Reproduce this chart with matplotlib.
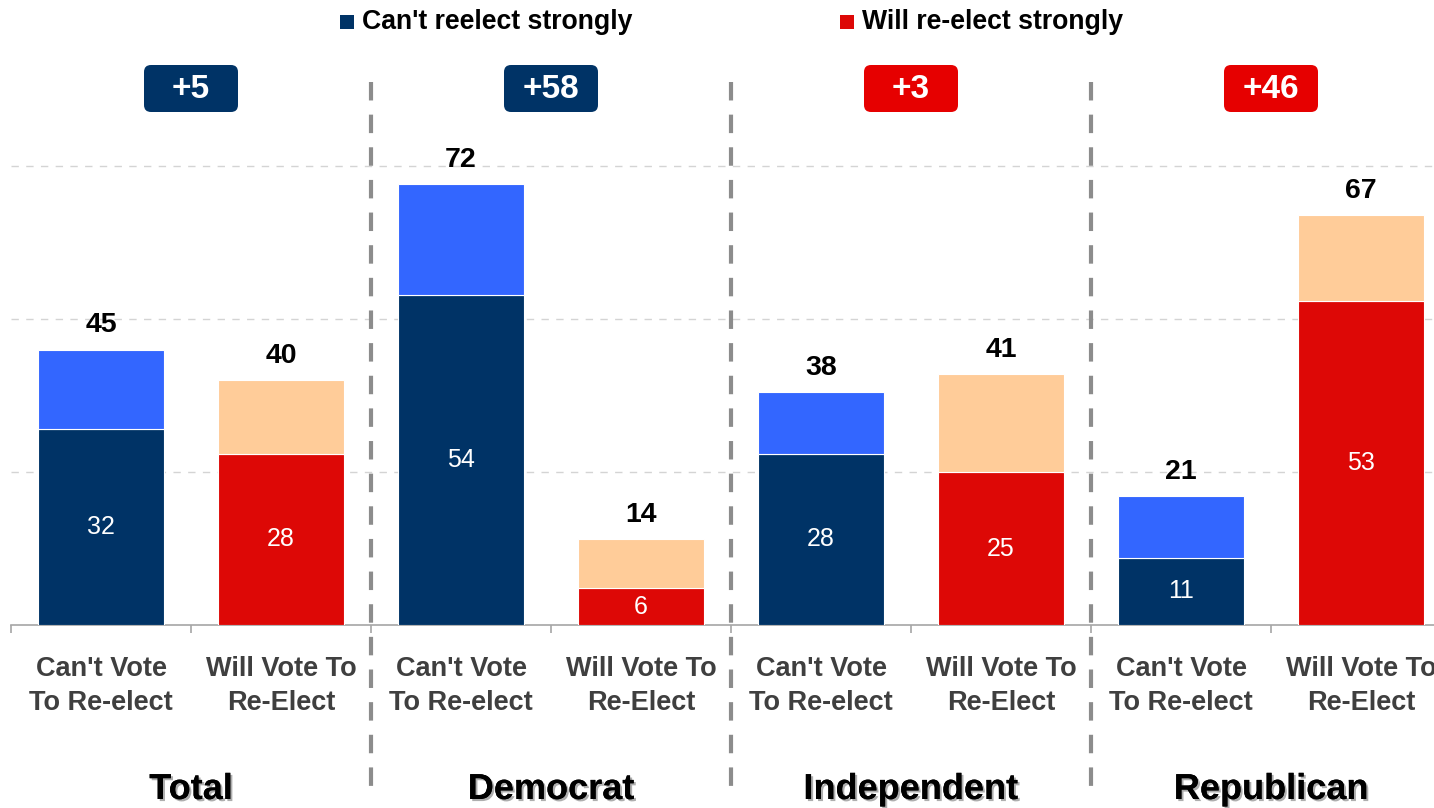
import matplotlib
matplotlib.use("Agg")
import matplotlib.pyplot as plt
from matplotlib.patches import FancyBboxPatch
from matplotlib.lines import Line2D
import matplotlib.patheffects as pe

plt.rcParams['font.family'] = ['Liberation Sans', 'DejaVu Sans']
plt.rcParams['lines.scale_dashes'] = False

# ---- data ----
groups = ["Total", "Democrat", "Independent", "Republican"]
bar_labels = ["Can't Vote\nTo Re-elect", "Will Vote To\nRe-Elect"] * 4
totals = [45, 40, 72, 14, 38, 41, 21, 67]
strong = [32, 28, 54, 6, 28, 25, 11, 53]
margins = ["+5", "+58", "+3", "+46"]
margin_side = ["cant", "cant", "will", "will"]
legend_labels = ["Can't reelect strongly", "Will re-elect strongly"]

NAVY = "#003366"
BLUE = "#3366FF"
RED = "#DD0806"
PEACH = "#FFCC99"
BADGE_RED = "#E60000"

W, H = 1434, 808
fig = plt.figure(figsize=(W / 100, H / 100), dpi=100)

px_per_unit = 6.12
ymax = 80
ax_bottom_px = 625
ax = fig.add_axes([11 / W, (H - ax_bottom_px) / H, 1440 / W, ymax * px_per_unit / H])
ax.set_xlim(-0.5, 7.5)
ax.set_ylim(0, ymax)

x = list(range(len(totals)))
strong_colors = [NAVY if i % 2 == 0 else RED for i in x]
rest_colors = [BLUE if i % 2 == 0 else PEACH for i in x]
rest = [t - s for t, s in zip(totals, strong)]

ax.bar(x, strong, width=0.705, color=strong_colors, edgecolor="white", linewidth=0.8, zorder=3)
ax.bar(x, rest, bottom=strong, width=0.705, color=rest_colors, edgecolor="white", linewidth=0.8, zorder=3)

for xi, t, s in zip(x, totals, strong):
    ax.text(xi, s / 2, f"{s}", ha="center", va="center", color="white", fontsize=18, zorder=4)
    ax.annotate(f"{t}", (xi, t), xytext=(0, 12.5), textcoords="offset points",
                ha="center", va="baseline", fontsize=20.5, fontweight="bold", color="black", zorder=4)

# gridlines
for gv in (25, 50, 75):
    ax.axhline(gv, color="#D4D4D4", linewidth=1, linestyle=(0, (5.3, 5.3)), zorder=1)

# axes styling
for s in ("top", "right", "left"):
    ax.spines[s].set_visible(False)
ax.spines["bottom"].set_color("#A6A6A6")
ax.spines["bottom"].set_linewidth(1.2)
ax.set_yticks([])
ax.set_xticks([i - 0.5 for i in range(9)])
ax.set_xticklabels([])
ax.tick_params(axis="x", which="major", length=6, color="#A6A6A6", width=1.2, direction="out")
ax.set_xticks(x, minor=True)
ax.set_xticklabels(bar_labels, minor=True, fontsize=19.5, fontweight="bold", color="#3F3F3F",
                   linespacing=1.42)
ax.tick_params(axis="x", which="minor", length=0, pad=22)

# separators
for b in (1.5, 3.5, 5.5):
    xp = ax.transData.transform((b, 0))[0] / W
    fig.add_artist(Line2D([xp, xp], [(H - 82) / H, (H - 787) / H], transform=fig.transFigure,
                          color="#8C8C8C", linewidth=3, linestyle=(0, (13.3, 10.2)), zorder=5))

# group labels
for gi, g in enumerate(groups):
    xp = ax.transData.transform((2 * gi + 0.5, 0))[0] / W
    fig.text(xp, 9 / H, g, ha="center", va="baseline", fontsize=26, fontweight="bold", color="black",
             path_effects=[pe.withSimplePatchShadow(offset=(1.5, -1.5), shadow_rgbFace="#9A9A9A", alpha=0.8),
                           pe.Normal()])

# badges
bw, bh = 94, 47
for gi, (m, side) in enumerate(zip(margins, margin_side)):
    xc = ax.transData.transform((2 * gi + 0.5, 0))[0]
    yc = H - 88.5
    col = NAVY if side == "cant" else BADGE_RED
    patch = FancyBboxPatch(((xc - bw / 2) / 100, (yc - bh / 2) / 100), bw / 100, bh / 100,
                           boxstyle="round,pad=0,rounding_size=0.07",
                           transform=fig.dpi_scale_trans, facecolor=col, edgecolor="none")
    fig.add_artist(patch)
    fig.text(xc / W, (yc - 1) / H, m, ha="center", va="center", fontsize=24, fontweight="bold", color="white")

# legend
leg_y = H - 22
for (sx, tx), lab, col in zip(((340, 362), (840, 862)), legend_labels, (NAVY, RED)):
    fig.add_artist(FancyBboxPatch((sx / 100, (leg_y - 7) / 100), 14 / 100, 14 / 100,
                                  boxstyle="square,pad=0", transform=fig.dpi_scale_trans,
                                  facecolor=col, edgecolor="none"))
    fig.text(tx / W, leg_y / H, lab, ha="left", va="center", fontsize=19.2, fontweight="bold", color="black")

fig.savefig("out.png", dpi=100)
